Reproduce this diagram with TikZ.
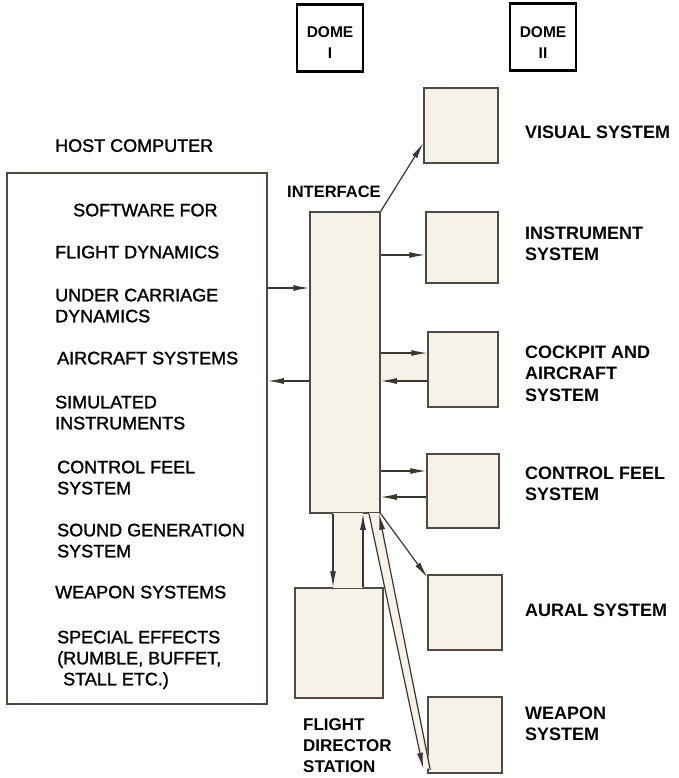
\documentclass[tikz,border=0pt]{standalone}
\usepackage{fontspec}
\setmainfont{Liberation Sans}
\newfontfamily\leftfont[FakeBold=1.3]{Liberation Sans}
\usetikzlibrary{arrows.meta,calc}
\definecolor{boxfill}{HTML}{F7F2E8}
\definecolor{edge}{HTML}{4F4A42}
\definecolor{linec}{HTML}{3A3530}
\begin{document}
\begin{tikzpicture}[x=1pt,y=-1pt,
  box/.style={draw=edge,line width=1.5pt,fill=boxfill,inner sep=0pt},
  domebox/.style={draw=black,line width=2.3pt,fill=white,inner sep=0pt,minimum width=66pt,minimum height=67pt},
  dometxt/.style={inner sep=0pt,align=center,font=\bfseries\fontsize{15.5}{20.5}\selectfont},
  lefttxt/.style={anchor=north west,inner sep=0pt,align=left,font=\leftfont\fontsize{18}{21}\selectfont},
  righttxt/.style={anchor=north west,inner sep=0pt,align=left,font=\bfseries\fontsize{18}{21.5}\selectfont},
  link/.style={draw=linec,line width=1.2pt},
  arr/.style={link,-{Latex[length=16pt,width=6pt]}},
  rarr/.style={link,{Latex[length=16pt,width=6pt]}-},
]
\useasboundingbox (0,0) rectangle (679,778);

% boxes
\node[draw=edge,line width=1.6pt,fill=white,inner sep=0pt,minimum width=260pt,minimum height=531pt] (host) at (137,438.5) {};
\node[box,minimum width=70pt,minimum height=301pt] (iface) at (345,362.5) {};
\node[domebox] (dome1) at (330,38) {};
\node[domebox] (dome2) at (543,37) {};
\node[box,minimum width=74pt,minimum height=75pt] (vis) at (461,125.5) {};
\node[box,minimum width=72pt,minimum height=71pt] (inst) at (462,247.5) {};
\node[box,minimum width=70pt,minimum height=75pt] (cock) at (463,369.5) {};
\node[box,minimum width=72pt,minimum height=74pt] (cfeel) at (463,491) {};
\node[box,minimum width=74pt,minimum height=75pt] (aural) at (465,612.5) {};
\node[box,minimum width=74pt,minimum height=76pt] (weap) at (465,735) {};
\node[box,minimum width=88pt,minimum height=110pt] (fds) at (339,643) {};

% dome texts
\node[dometxt] (d1t) at ($(dome1.center)+(0,4.5)$) {DOME\\I};
\node[dometxt] (d2t) at ($(dome2.center)+(0,5.5)$) {DOME\\II};

% left texts
\node[lefttxt] (hc) at (55,139) {HOST COMPUTER};
\node[lefttxt] (t1) at (73,203.5) {SOFTWARE FOR};
\node[lefttxt] (t2) at (55,245.5) {FLIGHT DYNAMICS};
\node[lefttxt] (t3) at (55,288.5) {UNDER CARRIAGE\\DYNAMICS};
\node[lefttxt] (t4) at (57,351.5) {AIRCRAFT SYSTEMS};
\node[lefttxt] (t5) at (55,395.5) {SIMULATED\\INSTRUMENTS};
\node[lefttxt] (t6) at (57,460.5) {CONTROL FEEL\\SYSTEM};
\node[lefttxt] (t7) at (57,523.5) {SOUND GENERATION\\SYSTEM};
\node[lefttxt] (t8) at (55,585.5) {WEAPON SYSTEMS};
\node[lefttxt] (t9) at (57,630.5) {SPECIAL EFFECTS\\(RUMBLE, BUFFET,\\\hspace*{6pt}STALL ETC.)};

% right texts
\node[righttxt,font=\bfseries\fontsize{16.5}{20}\selectfont] (it) at (287,185.5) {INTERFACE};
\node[righttxt] (l1) at (525,125.5) {VISUAL SYSTEM};
\node[righttxt] (l2) at (525,226.5) {INSTRUMENT\\SYSTEM};
\node[righttxt] (l3) at (525,345.5) {COCKPIT AND\\AIRCRAFT\\SYSTEM};
\node[righttxt] (l4) at (525,466.5) {CONTROL FEEL\\SYSTEM};
\node[righttxt] (l5) at (525,603.5) {AURAL SYSTEM};
\node[righttxt] (l6) at (525,706.5) {WEAPON\\SYSTEM};
\node[righttxt,font=\bfseries\fontsize{17}{21}\selectfont] (l7) at (303,718.5) {FLIGHT\\DIRECTOR\\STATION};

% bands
\fill[boxfill] (iface.east |- 0,353) rectangle (cock.west |- 0,381);
\fill[boxfill] (333,513) rectangle (363,588);
\fill[boxfill] (369,513) -- (379,513) -- (431,769) -- (424,768) -- cycle;

% connectors
\draw[arr] (host.east |- 0,288) -- (iface.west |- 0,288);
\draw[arr] (iface.west |- 0,381) -- (host.east |- 0,381);
\draw[arr] (iface.north east) -- (vis.west |- 0,143);
\draw[arr] (iface.east |- 0,255) -- (inst.west |- 0,255);
\draw[arr] (iface.east |- 0,353) -- (cock.west |- 0,353);
\draw[arr] (cock.west |- 0,381) -- (iface.east |- 0,381);
\draw[arr] (iface.east |- 0,471) -- (cfeel.west |- 0,471);
\draw[arr] (cfeel.west |- 0,497) -- (iface.east |- 0,497);
\draw[arr] (iface.south east) -- ($(aural.north west)+(0,3)$);
\draw[arr] (iface.south -| 333,0) -- (fds.north -| 333,0);
\draw[rarr] (iface.south -| 363,0) -- (fds.north -| 363,0);
\draw[arr] (iface.south -| 369,0) -- ($(weap.south west)+(-4,-5)$);
\draw[rarr] (iface.south -| 379,0) -- ($(weap.south west)+(3,-4)$);
\end{tikzpicture}
\end{document}
